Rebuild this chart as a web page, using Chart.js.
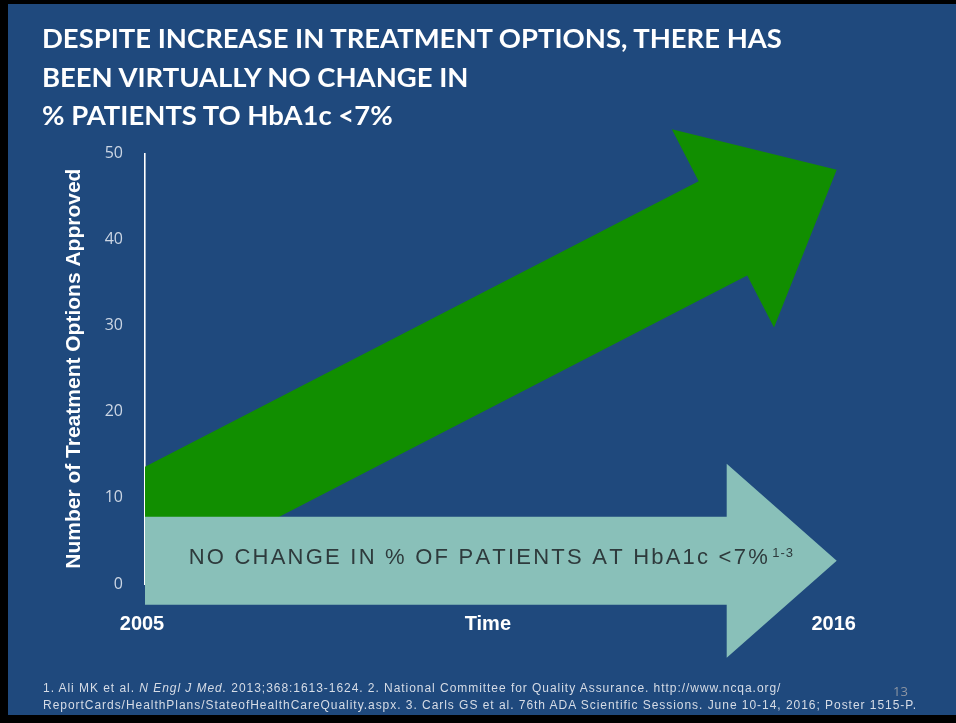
<!DOCTYPE html>
<html><head><meta charset="utf-8">
<script src="https://cdn.jsdelivr.net/npm/chart.js@4"></script>
<style>
html,body{margin:0;padding:0;background:#000;}
body{width:956px;height:723px;position:relative;overflow:hidden;}
#panel{position:absolute;left:8px;top:4px;width:948px;height:711px;background:#1F497D;}
#c{position:absolute;left:0;top:0;}
#title{position:absolute;left:42px;top:19px;color:#fff;font-family:Lato,"Open Sans",sans-serif;font-weight:700;font-size:27px;line-height:38.7px;white-space:nowrap;}
#title div{display:block;}
#title span{display:inline-block;}
.fn{position:absolute;left:43px;color:#D6DCE6;font-family:"Liberation Sans",Arial,sans-serif;font-size:12px;line-height:11px;white-space:nowrap;}
#pg{position:absolute;left:893px;top:684.5px;color:#8E96A3;font-family:"Open Sans",sans-serif;font-size:13px;line-height:13px;}
</style></head>
<body>
<div id="panel"></div>
<canvas id="c" width="956" height="723"></canvas>
<div id="title"><div><span id="t1">DESPITE INCREASE IN TREATMENT OPTIONS, THERE HAS</span></div><div><span>BEEN VIRTUALLY NO CHANGE IN</span></div><div><span>% PATIENTS TO HbA1c &lt;7%</span></div></div>
<div class="fn" id="fn1" style="top:682.8px">1. Ali MK et al. <i>N Engl J Med.</i> 2013;368:1613-1624. 2. National Committee for Quality Assurance. http://www.ncqa.org/</div>
<div class="fn" id="fn2" style="top:699.8px">ReportCards/HealthPlans/StateofHealthCareQuality.aspx. 3. Carls GS et al. 76th ADA Scientific Sessions. June 10-14, 2016; Poster 1515-P.</div>
<div id="pg">13</div>
<script>
// ---- data ----
const years = [2005, 2016];
const treatmentOptions = [6.7, 48.1];     // green arrow centre line (number of options approved)
const hba1cAtGoal = [2.7, 2.7];           // teal arrow centre line (flat: no change)
const yTickValues = [0, 10, 20, 30, 40, 50];
const xTickValues = [2005, 2010.5, 2016];
const xTickLabels = ['2005', 'Time', '2016'];
const arrowLabel = 'NO CHANGE IN % OF PATIENTS AT HbA1c <7%';
const arrowLabelSup = '1-3';
const yTitle = 'Number of Treatment Options Approved';

// fit text widths
function fitSpacing(id, target) {
  const el = document.getElementById(id);
  el.style.letterSpacing = '0px';
  const w = el.getBoundingClientRect().width;
  const n = el.textContent.length;
  el.style.letterSpacing = ((target - w) / n) + 'px';
}
function fitTitle() {
  const t = document.getElementById('title');
  const s = document.getElementById('t1');
  t.style.fontSize = '27px';
  const w = s.getBoundingClientRect().width;
  const fs = 27 * 740 / w;
  const lh = 38.7;
  t.style.fontSize = fs + 'px';
  t.style.lineHeight = lh + 'px';
  t.style.top = (48.8 - ((lh - 1.2 * fs) / 2 + 0.987 * fs)) + 'px';
}
function fitAll() {
  fitTitle();
  fitSpacing('fn1', 738.4);
  fitSpacing('fn2', 874);
}

const arrowPlugin = {
  id: 'arrows',
  afterDatasetsDraw(chart) {
    const ctx = chart.ctx;
    chart.data.datasets.forEach((ds, i) => {
      const meta = chart.getDatasetMeta(i);
      const p0 = meta.data[0], p1 = meta.data[meta.data.length - 1];
      const a = ds.arrow;
      const dx = p1.x - p0.x, dy = p1.y - p0.y;
      const len = Math.hypot(dx, dy);
      const ux = dx / len, uy = dy / len;
      const nx = uy, ny = -ux;
      const hs = a.shaft / 2, hh = a.headWidth / 2;
      const bx = p1.x - ux * a.headLength, by = p1.y - uy * a.headLength;
      const cut = hs / ux;
      ctx.save();
      ctx.beginPath();
      ctx.moveTo(p0.x, p0.y - cut);
      ctx.lineTo(bx + nx * hs, by + ny * hs);
      ctx.lineTo(bx + nx * hh, by + ny * hh);
      ctx.lineTo(p1.x, p1.y);
      ctx.lineTo(bx - nx * hh, by - ny * hh);
      ctx.lineTo(bx - nx * hs, by - ny * hs);
      ctx.lineTo(p0.x, p0.y + cut);
      ctx.closePath();
      ctx.fillStyle = ds.backgroundColor;
      ctx.fill();
      if (a.label) {
        ctx.fillStyle = a.labelColor;
        ctx.textBaseline = 'alphabetic';
        ctx.textAlign = 'left';
        ctx.font = a.labelFont;
        const chars = [...a.label];
        let w = 0; chars.forEach(c => w += ctx.measureText(c).width);
        const sp = (a.labelWidth - w) / (chars.length - 1);
        ctx.font = a.supFont;
        let ws = 0; [...a.sup].forEach(c => ws += ctx.measureText(c).width);
        ws += a.supSpacing * (a.sup.length - 1);
        const total = a.labelWidth + a.supGap + ws;
        let x = (p0.x + p1.x) / 2 - total / 2;
        const y = (p0.y + p1.y) / 2 + a.labelDy;
        ctx.font = a.labelFont;
        chars.forEach(c => { ctx.fillText(c, x, y); x += ctx.measureText(c).width + sp; });
        x = x - sp + a.supGap;
        ctx.font = a.supFont;
        [...a.sup].forEach(c => { ctx.fillText(c, x, y + a.supDy); x += ctx.measureText(c).width + a.supSpacing; });
      }
      ctx.restore();
    });
  }
};

let chart;
function build() {
  chart = new Chart(document.getElementById('c'), {
    type: 'scatter',
    data: {
      datasets: [
        {
          label: 'Treatment options',
          data: years.map((x, i) => ({x, y: treatmentOptions[i]})),
          backgroundColor: '#118E00',
          pointRadius: 0, pointHoverRadius: 0, showLine: false,
          arrow: {shaft: 106, headWidth: 223, headLength: 128}
        },
        {
          label: 'HbA1c <7%',
          data: years.map((x, i) => ({x, y: hba1cAtGoal[i]})),
          backgroundColor: '#89C0B9',
          pointRadius: 0, pointHoverRadius: 0, showLine: false,
          arrow: {
            shaft: 88, headWidth: 194, headLength: 110,
            label: arrowLabel, sup: arrowLabelSup,
            labelFont: '22px "Liberation Sans", Arial, sans-serif',
            supFont: '13px "Liberation Sans", Arial, sans-serif',
            labelColor: '#2E3A3C', labelWidth: 579, supGap: 4.5, supSpacing: 1,
            labelDy: 3.5, supDy: -7
          }
        }
      ]
    },
    options: {
      responsive: false,
      animation: false,
      events: [],
      devicePixelRatio: 1,
      layout: {padding: {left: 58, right: 119.3, top: 153.3, bottom: 0}},
      plugins: {legend: {display: false}, tooltip: {enabled: false}, title: {display: false}},
      scales: {
        x: {
          type: 'linear', min: years[0], max: years[years.length - 1],
          grid: {display: false, drawTicks: false},
          border: {display: false},
          afterBuildTicks: s => { s.ticks = xTickValues.map(v => ({value: v})); },
          afterFit: s => { s.height = 723 - 584; },
          ticks: {
            padding: 28, maxRotation: 0, autoSkip: false, color: '#FFFFFF', labelOffset: -3,
            font: {family: '"Liberation Sans", Arial, sans-serif', size: 20, weight: 'bold'},
            callback: v => xTickLabels[xTickValues.indexOf(v)]
          }
        },
        y: {
          type: 'linear', min: 0, max: 50,
          grid: {display: false, drawTicks: false},
          border: {display: true, color: '#FFFFFF', width: 1.6},
          afterBuildTicks: s => { s.ticks = yTickValues.map(v => ({value: v})); },
          afterFit: s => { s.width = 145 - 58; },
          ticks: {
            padding: 22, color: '#CCD6E4',
            font: {family: '"Open Sans", sans-serif', size: 16}
          },
          title: {
            display: true, text: yTitle, color: '#FFFFFF',
            padding: {top: 4, bottom: 0},
            font: {family: '"Liberation Sans", Arial, sans-serif', size: 21, weight: 'bold'}
          }
        }
      }
    },
    plugins: [arrowPlugin]
  });
}
build();
fitAll();
document.fonts.ready.then(() => { fitAll(); chart.draw(); });
</script>
</body></html>
